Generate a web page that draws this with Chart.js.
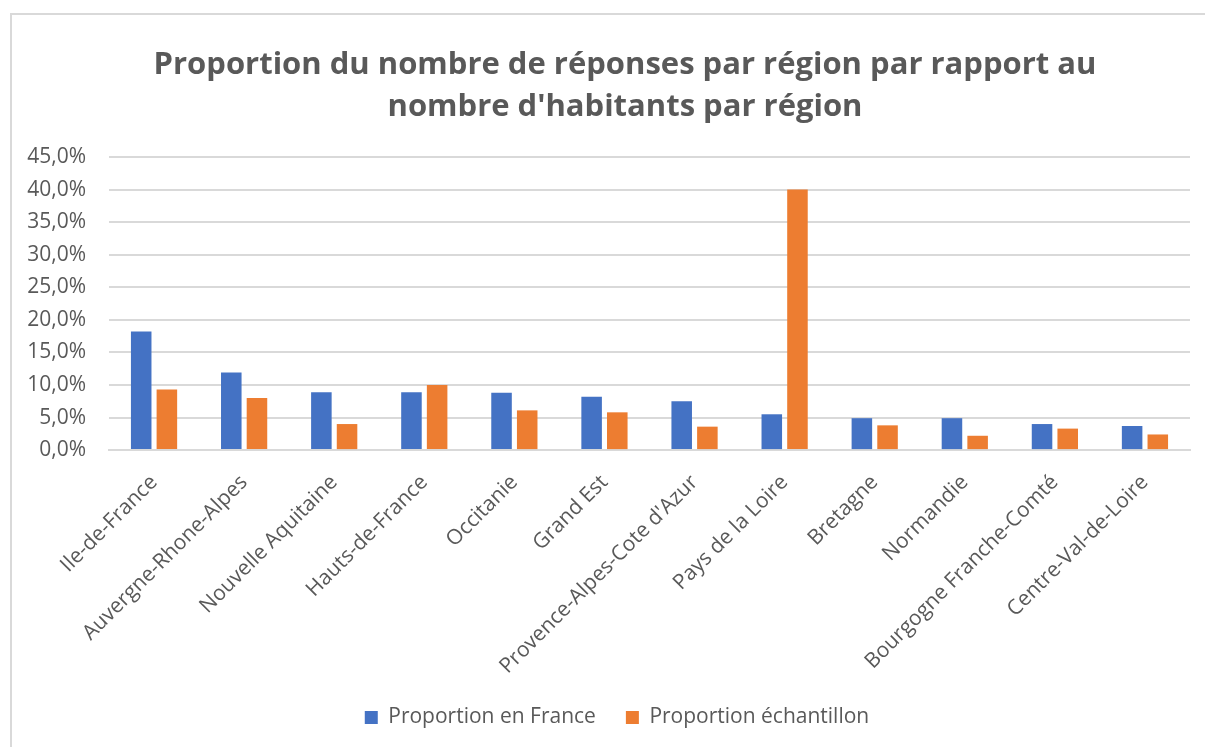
<!DOCTYPE html>
<html>
<head>
<meta charset="utf-8">
<script src="https://cdn.jsdelivr.net/npm/chart.js@4"></script>
<style>
  body { margin: 0; background: #fff; overflow: hidden; }
  #frame {
    position: absolute; left: 10px; top: 13px;
    width: 1300px; height: 800px;
    border: 2px solid #d9d9d9;
  }
  #wrap { position: absolute; left: 12px; top: 15px; width: 1193px; height: 732px; }
</style>
</head>
<body>
<div id="frame"></div>
<div id="wrap"><canvas id="myChart"></canvas></div>
<script>
// regions along the x-axis
var regions = ["Ile-de-France", "Auvergne-Rhone-Alpes", "Nouvelle Aquitaine", "Hauts-de-France",
  "Occitanie", "Grand Est", "Provence-Alpes-Cote d'Azur", "Pays de la Loire", "Bretagne",
  "Normandie", "Bourgogne Franche-Comté", "Centre-Val-de-Loire"];
// values in %
var propFrance = [18.2, 11.9, 8.9, 8.9, 8.8, 8.2, 7.5, 5.5, 4.9, 4.9, 4.0, 3.7];
var propEchantillon = [9.3, 8.0, 4.0, 10.0, 6.1, 5.8, 3.6, 40.0, 3.8, 2.2, 3.3, 2.4];

var grey = "#595959";
var font = "'Open Sans', sans-serif";

const data = {
  labels: regions,
  datasets: [
    {
      label: "Proportion en France",
      data: propFrance,
      backgroundColor: "#4472c4",
      categoryPercentage: 0.57,
      barPercentage: 0.8,
    },
    {
      label: "Proportion échantillon",
      data: propEchantillon,
      backgroundColor: "#ed7d31",
      categoryPercentage: 0.57,
      barPercentage: 0.8,
    },
  ],
};

// title and legend sit a bit right of the canvas centre in the original
const shiftBlocks = {
  id: "shiftBlocks",
  afterLayout(chart) {
    chart.titleBlock.left += 24;
    chart.titleBlock.right += 24;
    chart.legend.left += 16;
    chart.legend.right += 16;
  },
};

const config = {
  type: "bar",
  data,
  plugins: [shiftBlocks],
  options: {
    responsive: true,
    maintainAspectRatio: false,
    animation: false,
    layout: { padding: { left: 0, right: 15, top: 29, bottom: 9 } },
    plugins: {
      title: {
        display: true,
        text: ["Proportion du nombre de réponses par région par rapport au", "nombre d'habitants par région"],
        color: grey,
        font: { family: font, size: 31, weight: "bold", lineHeight: 1.355 },
        padding: { top: 0, bottom: 29 },
      },
      legend: {
        position: "bottom",
        labels: {
          color: grey,
          font: { family: font, size: 21 },
          boxWidth: 13,
          boxHeight: 13,
          padding: 30,
        },
      },
      tooltip: { enabled: false },
    },
    scales: {
      x: {
        grid: { display: false },
        border: { color: "#d9d9d9", width: 2 },
        ticks: {
          color: grey,
          font: { family: font, size: 21 },
          padding: 12,
          minRotation: 45,
          maxRotation: 45,
          autoSkip: false,
        },
        afterFit: function (scale) {
          scale.paddingLeft = 0;
          scale.paddingRight = 0;
          scale.height -= 14;
        },
      },
      y: {
        min: 0,
        max: 45,
        border: { display: false },
        grid: { color: "#d9d9d9", lineWidth: 2, drawTicks: false },
        ticks: {
          stepSize: 5,
          padding: 23,
          color: grey,
          font: { family: font, size: 21 },
          callback: function (v) { return v.toFixed(1).replace(".", ",") + "%"; },
        },
        afterFit: function (scale) {
          scale.width = 97;
        },
      },
    },
  },
};

const myChart = new Chart(document.getElementById("myChart"), config);
</script>
</body>
</html>
